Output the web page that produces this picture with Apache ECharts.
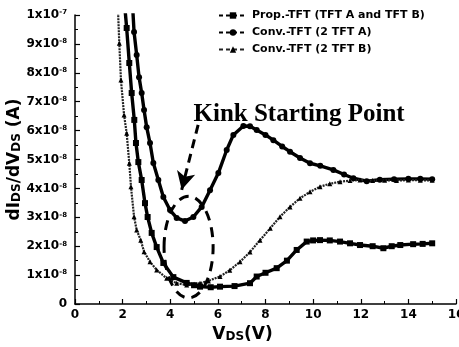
<!DOCTYPE html>
<html>
<head>
<meta charset="utf-8">
<script src="https://cdn.jsdelivr.net/npm/echarts@6/dist/echarts.min.js"></script>
<style>
html,body{margin:0;padding:0;background:#fff;}
#c{width:459px;height:347px;}
</style>
</head>
<body>
<div id="c"></div>
<script>
// Values in units of 1e-8 A (dI_DS/dV_DS) versus V_DS (V)
const propX = [2.10,2.17,2.28,2.38,2.49,2.56,2.66,2.80,2.94,3.05,3.22,3.43,3.71,4.13,4.69,5.00,5.25,5.70,6.09,6.70,7.35,7.63,8.00,8.47,8.90,9.31,9.73,10.00,10.29,10.70,11.13,11.55,11.97,12.50,12.95,13.30,13.66,14.20,14.60,15.00];
const propY = [10.2,9.55,8.34,7.30,6.37,5.57,4.91,4.29,3.49,3.01,2.46,1.97,1.42,0.93,0.73,0.65,0.60,0.58,0.60,0.62,0.72,0.95,1.08,1.24,1.50,1.87,2.16,2.20,2.21,2.20,2.16,2.10,2.04,2.00,1.93,2.00,2.04,2.07,2.08,2.10];

const convAX = [2.42,2.48,2.59,2.69,2.80,2.90,3.01,3.15,3.29,3.50,3.71,3.99,4.27,4.62,4.97,5.32,5.67,6.02,6.37,6.65,7.07,7.35,7.63,8.00,8.33,8.70,9.03,9.45,9.87,10.30,10.85,11.30,11.69,12.25,12.80,13.40,14.00,14.50,15.00];
const convAY = [10.3,9.41,8.62,7.85,7.30,6.71,6.12,5.57,4.88,4.29,3.70,3.25,2.98,2.87,3.01,3.36,3.94,4.53,5.33,5.85,6.16,6.15,6.02,5.85,5.67,5.45,5.27,5.05,4.87,4.78,4.64,4.48,4.35,4.25,4.30,4.32,4.33,4.33,4.32];

const convBX = [1.80,1.86,1.93,2.06,2.17,2.28,2.35,2.48,2.59,2.76,2.90,3.15,3.43,3.85,4.27,4.69,5.00,5.25,5.60,6.09,6.50,6.93,7.35,7.77,8.20,8.61,9.03,9.45,9.87,10.29,10.70,11.13,11.55,11.97,12.50,13.00,13.50,14.00,14.50,15.00];
const convBY = [10.3,9.02,7.75,6.54,5.91,4.87,4.06,3.02,2.56,2.21,1.81,1.46,1.18,0.89,0.72,0.66,0.68,0.72,0.80,0.95,1.17,1.46,1.80,2.21,2.62,3.02,3.36,3.66,3.88,4.06,4.16,4.23,4.27,4.29,4.27,4.28,4.27,4.29,4.28,4.28];

const seriesNames = ['Prop.-TFT (TFT A and TFT B)', 'Conv.-TFT (2 TFT A)', 'Conv.-TFT (2 TFT B)'];
const xTicks = [0,2,4,6,8,10,12,14,16];
const yTickExp = {0:'', 10:'-7', other:'-8'};

// annotation anchors (data coordinates)
const annoText = 'Kink Starting Point';
const annoTextPos = [9.41, 6.57];
const arrowFrom = [5.17, 6.2];
const arrowTo = [4.48, 3.95];
const ellipseCenter = [4.77, 1.97];
const ellipseRadius = [1.03, 1.76];

function zip(xs, ys){ return xs.map((x,i)=>[x, ys[i]]); }

const FONT = '"DejaVu Sans", "Liberation Sans", Arial, sans-serif';
const chart = echarts.init(document.getElementById('c'), null, {renderer:'canvas'});

const option = {
  animation: false,
  backgroundColor: '#fff',
  grid: {left: 75, right: 3, top: 15, bottom: 43, containLabel: false, outerBoundsMode: 'none'},
  legend: {
    orient: 'vertical', left: 213, top: 5, itemWidth: 28, itemHeight: 8, itemGap: 6,
    lineStyle: {type: [4, 3], width: 2},
    textStyle: {fontFamily: FONT, fontWeight: 'bold', fontSize: 11, color: '#000'},
    data: seriesNames
  },
  xAxis: {
    type: 'value', min: 0, max: 16, interval: 2,
    name: 'V{sub|DS}(V)', nameLocation: 'middle', nameGap: 22,
    nameTextStyle: {fontFamily: FONT, fontWeight: 'bold', fontSize: 17, color: '#000', padding: [0, 46, 0, 0],
      rich: {sub: {fontFamily: FONT, fontWeight: 'bold', fontSize: 12, verticalAlign: 'bottom', color:'#000'}}},
    axisLine: {lineStyle: {color: '#000', width: 1.5}},
    axisTick: {inside: true, length: 5, lineStyle: {color: '#000', width: 1.2}},
    minorTick: {show: true, splitNumber: 2, length: 3, lineStyle: {color: '#000'}},
    splitLine: {show: false},
    axisLabel: {margin: 5, fontFamily: FONT, fontWeight: 'bold', fontSize: 12, color: '#000',
      formatter: v => xTicks.includes(Math.round(v)) ? String(Math.round(v)) : ''}
  },
  yAxis: {
    type: 'value', min: 0, max: 10, interval: 1,
    name: 'dI{sub|DS}/dV{sub|DS} (A)', nameLocation: 'middle', nameGap: 52, nameMoveOverlap: false,
    nameTextStyle: {fontFamily: FONT, fontWeight: 'bold', fontSize: 17, color: '#000',
      rich: {sub: {fontFamily: FONT, fontWeight: 'bold', fontSize: 12, verticalAlign: 'bottom', color:'#000'}}},
    axisLine: {show: true, lineStyle: {color: '#000', width: 1.5}},
    axisTick: {show: true, inside: true, length: 5, lineStyle: {color: '#000', width: 1.2}},
    minorTick: {show: true, splitNumber: 2, length: 3, lineStyle: {color: '#000'}},
    splitLine: {show: false},
    axisLabel: {margin: 8, fontFamily: FONT, fontWeight: 'bold', fontSize: 12, color: '#000',
      formatter: v => {
        const n = Math.round(v);
        if (n === 0) return '0';
        if (n === 10) return '1x10{sup|' + yTickExp[10] + '}';
        return n + 'x10{sup|' + yTickExp.other + '}';
      },
      rich: {sup: {fontFamily: FONT, fontWeight: 'bold', fontSize: 7, verticalAlign: 'top', color: '#000'}}
    }
  },
  series: [
    {
      name: seriesNames[0], type: 'line', data: zip(propX, propY),
      symbol: 'rect', symbolSize: 6, showAllSymbol: true, clip: true,
      itemStyle: {color: '#000'}, lineStyle: {color: '#000', width: 3.4}
    },
    {
      name: seriesNames[1], type: 'line', data: zip(convAX, convAY),
      symbol: 'circle', symbolSize: 6, showAllSymbol: true, clip: true,
      itemStyle: {color: '#000'}, lineStyle: {color: '#000', width: 3.4},
      markLine: {
        silent: true, symbol: ['none', 'arrow'], symbolSize: [14, 18],
        label: {show: false},
        lineStyle: {color: '#000', type: [9, 6], width: 3},
        data: [[{coord: arrowFrom}, {coord: arrowTo}]]
      }
    },
    {
      name: seriesNames[2], type: 'line', data: zip(convBX, convBY),
      symbol: 'triangle', symbolSize: 5, showAllSymbol: true, clip: true,
      itemStyle: {color: '#000'}, lineStyle: {color: '#222', width: 2.2, type: [2, 1]}
    }
  ]
};
chart.setOption(option);

const c = chart.convertToPixel({gridIndex: 0}, ellipseCenter);
const e1 = chart.convertToPixel({gridIndex: 0}, [ellipseCenter[0] + ellipseRadius[0], ellipseCenter[1] + ellipseRadius[1]]);
const tp = chart.convertToPixel({gridIndex: 0}, annoTextPos);
chart.setOption({
  graphic: [
    {type: 'ellipse', shape: {cx: c[0], cy: c[1], rx: Math.abs(e1[0]-c[0]), ry: Math.abs(e1[1]-c[1])},
     style: {fill: 'none', stroke: '#000', lineWidth: 3, lineDash: [10, 7]}, silent: true, z: 10},
    {type: 'text', x: tp[0], y: tp[1],
     style: {text: annoText, font: 'bold 25px "Liberation Serif", "Times New Roman", serif', fill: '#000', align: 'center', verticalAlign: 'middle'},
     silent: true, z: 10}
  ]
});
</script>
</body>
</html>
